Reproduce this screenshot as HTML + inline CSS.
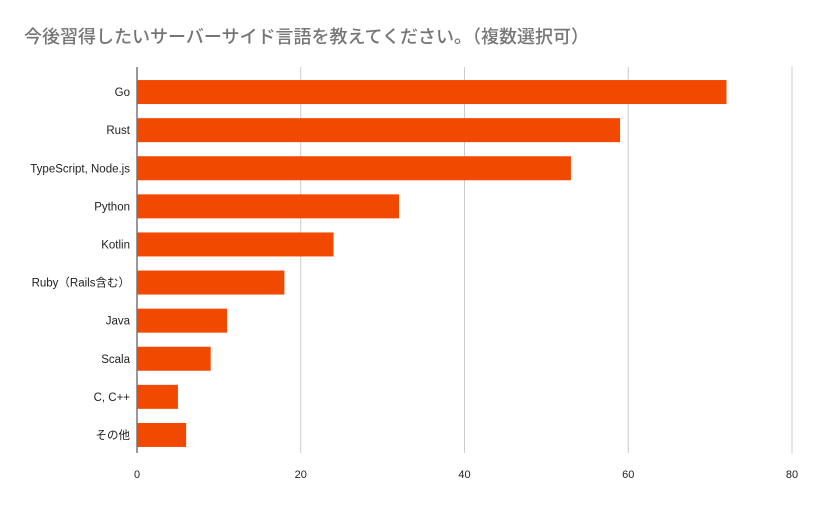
<!DOCTYPE html>
<html><head><meta charset="utf-8"><style>
body{margin:0;background:#fff;}
svg{display:block;font-family:"Liberation Sans","Noto Sans CJK JP",sans-serif;}
</style></head><body>
<svg id="chart" width="818" height="505">
<rect width="818" height="505" fill="#fff"/>
<text x="24" y="43" font-size="18" font-weight="500" fill="#757575">今後習得したいサーバーサイド言語を教えてください。（複数選択可）</text>
<g id="grid"></g><g id="bars"></g><g id="labels"></g>
</svg>
<script>
const categories=["Go","Rust","TypeScript, Node.js","Python","Kotlin","Ruby（Rails含む）","Java","Scala","C, C++","その他"];
const values=[72,59,53,32,24,18,11,9,5,6];
const ticks=[0,20,40,60,80];
const ns="http://www.w3.org/2000/svg";
const x0=137,x1=792,plotTop=73,plotBottom=454,xmax=80;
const band=(plotBottom-plotTop)/categories.length;
const xs=v=>x0+(x1-x0)*v/xmax;
const ys=i=>plotTop+band*i+band/2;
function mk(t,a,p){const e=document.createElementNS(ns,t);for(const k in a)e.setAttribute(k,a[k]);p.appendChild(e);return e;}
const g=document.getElementById('grid'),b=document.getElementById('bars'),l=document.getElementById('labels');
ticks.forEach(t=>{
 const ln=mk('line',{x1:xs(t),x2:xs(t),y1:67,y2:453,stroke:t===0?'#333':'#ccc','stroke-width':1},g);
 
 
 const tx=mk('text',{x:xs(t),y:478,'font-size':11,fill:'#222','text-anchor':'middle'},l);
 tx.textContent=t;
 
 
});
categories.forEach((c,i)=>{
 const r=mk('rect',{x:x0,y:ys(i)-12,width:xs(values[i])-x0,height:24,fill:'#f24900'},b);
 
 
 const tx=mk('text',{x:130,y:ys(i)+4,'font-size':11.5,fill:'#222','text-anchor':'end'},l);
 tx.textContent=c;
 
 
});
</script>
</body></html>
